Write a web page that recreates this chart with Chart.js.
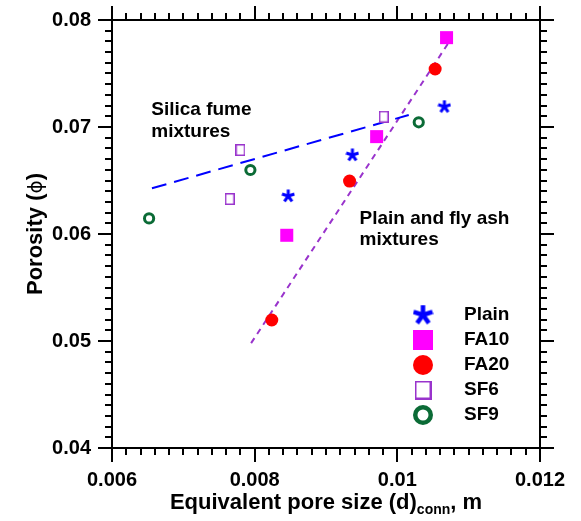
<!DOCTYPE html>
<html>
<head>
<meta charset="utf-8">
<script src="https://cdn.jsdelivr.net/npm/chart.js@4.4.0/dist/chart.umd.min.js"></script>
<style>
  body { margin: 0; background: #fff; }
  canvas { display: block; }
</style>
</head>
<body>
<canvas id="grafico" width="581" height="521"></canvas>
<script>
// Eixos
const xTicks = [0.006, 0.008, 0.010, 0.012];
const xTickLabels = ["0.006", "0.008", "0.01", "0.012"];
const yTicks = [0.04, 0.05, 0.06, 0.07, 0.08];
const yTickLabels = ["0.04", "0.05", "0.06", "0.07", "0.08"];

// Séries medidas (d_conn, porosidade)
const plainX = [0.00847, 0.00937, 0.01066];
const plainY = [0.06355, 0.06738, 0.07190];
const fa10X = [0.00845, 0.00971, 0.01069];
const fa10Y = [0.05988, 0.06910, 0.07835];
const fa20X = [0.00824, 0.00933, 0.01053];
const fa20Y = [0.05196, 0.06495, 0.07542];
const sf6X = [0.00765, 0.00780, 0.00981];
const sf6Y = [0.06327, 0.06785, 0.07096];
const sf9X = [0.00652, 0.00794, 0.01030];
const sf9Y = [0.06146, 0.06598, 0.07044];

// Retas de tendência
const sfFitX = [0.00656, 0.01016];
const sfFitY = [0.06427, 0.07112];
const faFitX = [0.00795, 0.01076];
const faFitY = [0.04980, 0.07830];

const legendLabels = ["Plain", "FA10", "FA20", "SF6", "SF9"];

const AZUL = "#0000ff";
const MAGENTA = "#ff00ff";
const VERMELHO = "#ff0000";
const ROXO = "#9933cc";
const VERDE = "#0b6b36";

function pontos(xs, ys) {
  return xs.map((x, i) => ({ x: x, y: ys[i] }));
}

// Asterisco de 5 braços
function criarEstrela(tam, larg) {
  const c = document.createElement("canvas");
  c.width = tam; c.height = tam;
  const g = c.getContext("2d");
  g.strokeStyle = AZUL;
  g.lineWidth = larg;
  const r = tam / 2;
  for (let k = 0; k < 5; k++) {
    const a = -Math.PI / 2 + k * 2 * Math.PI / 5;
    g.beginPath();
    g.moveTo(r, r);
    g.lineTo(r + Math.cos(a) * (r - 0.5), r + Math.sin(a) * (r - 0.5));
    g.stroke();
  }
  return c;
}

// Retângulo vazado (SF6)
function criarRetangulo(w, h, larg) {
  const c = document.createElement("canvas");
  c.width = w; c.height = h;
  const g = c.getContext("2d");
  g.fillStyle = "#fff";
  g.fillRect(0, 0, w, h);
  g.strokeStyle = ROXO;
  g.lineWidth = larg;
  g.strokeRect(larg / 2, larg / 2, w - larg, h - larg);
  return c;
}

const estrelaPequena = criarEstrela(14, 3);
const estrelaGrande = criarEstrela(21, 4.5);
const retPequeno = criarRetangulo(10, 12, 1.5);
const retGrande = criarRetangulo(17, 19, 2);

// Marcas menores, bordas de cima/direita
const molduraPlugin = {
  id: "moldura",
  beforeDatasetsDraw(chart) {
    const { ctx, chartArea: a, scales } = chart;
    const sx = scales.x, sy = scales.y;
    ctx.save();
    ctx.strokeStyle = "#000";
    ctx.lineWidth = 2;
    ctx.beginPath();
    ctx.moveTo(a.left, a.top); ctx.lineTo(a.right, a.top);
    ctx.moveTo(a.right, a.top); ctx.lineTo(a.right, a.bottom);
    ctx.stroke();

    ctx.lineWidth = 2;
    ctx.beginPath();
    for (let i = 0; i <= 30; i++) {
      const v = sx.min + i * (sx.max - sx.min) / 30;
      const px = Math.round(sx.getPixelForValue(v));
      const major = i % 10 === 0;
      const len = major ? 14 : 7;
      // topo
      ctx.moveTo(px, a.top); ctx.lineTo(px, a.top - len);
      if (!major) { ctx.moveTo(px, a.bottom); ctx.lineTo(px, a.bottom + len); }
    }
    for (let i = 0; i <= 40; i++) {
      const v = sy.min + i * (sy.max - sy.min) / 40;
      const py = Math.round(sy.getPixelForValue(v));
      const major = i % 10 === 0;
      const len = major ? 14 : 7;
      ctx.moveTo(a.right, py); ctx.lineTo(a.right + len, py);
      if (!major) { ctx.moveTo(a.left, py); ctx.lineTo(a.left - len, py); }
    }
    ctx.stroke();
    ctx.restore();
  },
  afterDraw(chart) {
    const { ctx, chartArea: a, scales } = chart;
    const sx = scales.x, sy = scales.y;
    ctx.save();
    ctx.fillStyle = "#000";

    // título do eixo x com subscrito
    const fGrande = "bold 22px 'Liberation Sans', Arial, sans-serif";
    const fSub = "bold 14px 'Liberation Sans', Arial, sans-serif";
    const partes = [
      { t: "Equivalent pore size (d)", f: fGrande, dy: 0 },
      { t: "conn", f: fSub, dy: 5 },
      { t: ", m", f: fGrande, dy: 0 }
    ];
    let total = 0;
    partes.forEach(p => { ctx.font = p.f; p.w = ctx.measureText(p.t).width; total += p.w; });
    let cx = (a.left + a.right) / 2 - total / 2;
    ctx.textBaseline = "alphabetic";
    ctx.textAlign = "left";
    partes.forEach(p => { ctx.font = p.f; ctx.fillText(p.t, cx, 509 + p.dy); cx += p.w; });

    // título do eixo y
    const partesY = [
      { t: "Porosity (", f: fGrande },
      { t: "\u03d5", f: "20px 'DejaVu Sans', sans-serif" },
      { t: ")", f: fGrande }
    ];
    total = 0;
    partesY.forEach(p => { ctx.font = p.f; p.w = ctx.measureText(p.t).width; total += p.w; });
    ctx.translate(42, (a.top + a.bottom) / 2);
    ctx.rotate(-Math.PI / 2);
    cx = -total / 2;
    partesY.forEach(p => { ctx.font = p.f; ctx.fillText(p.t, cx, 0); cx += p.w; });
    ctx.setTransform(1, 0, 0, 1, 0, 0);

    // anotações
    ctx.font = "bold 19px 'Liberation Sans', Arial, sans-serif";
    const ax1 = sx.getPixelForValue(0.00655), ay1 = sy.getPixelForValue(0.07112);
    ctx.fillText("Silica fume", ax1, ay1);
    ctx.fillText("mixtures", ax1, ay1 + 22);
    const ax2 = sx.getPixelForValue(0.00947), ay2 = sy.getPixelForValue(0.06093);
    ctx.fillText("Plain and fly ash", ax2, ay2);
    ctx.fillText("mixtures", ax2, ay2 + 21);

    // legenda
    const lx = a.right - 117, ly = a.bottom - 133, passo = 25;
    ctx.textBaseline = "middle";
    legendLabels.forEach((nome, i) => {
      const y = ly + i * passo;
      if (i === 0) {
        ctx.drawImage(estrelaGrande, lx - estrelaGrande.width / 2, y - estrelaGrande.height / 2);
      } else if (i === 1) {
        ctx.fillStyle = MAGENTA;
        ctx.fillRect(lx - 10, y - 10, 20, 20);
      } else if (i === 2) {
        ctx.fillStyle = VERMELHO;
        ctx.beginPath(); ctx.arc(lx, y, 10, 0, Math.PI * 2); ctx.fill();
      } else if (i === 3) {
        ctx.drawImage(retGrande, lx - retGrande.width / 2, y - retGrande.height / 2);
      } else {
        ctx.strokeStyle = VERDE; ctx.lineWidth = 4.5;
        ctx.beginPath(); ctx.arc(lx, y, 7.75, 0, Math.PI * 2); ctx.stroke();
      }
      ctx.fillStyle = "#000";
      ctx.fillText(nome, lx + 41, y);
    });
    ctx.restore();
  }
};

function criarGrafico() {
  const ctx = document.getElementById("grafico").getContext("2d");
  const fonteTick = { family: "'Liberation Sans', Arial, sans-serif", size: 20, weight: "bold" };
  new Chart(ctx, {
    type: "scatter",
    data: {
      datasets: [
        { label: "Plain", data: pontos(plainX, plainY), pointStyle: estrelaPequena, pointRadius: 7 },
        { label: "FA10", data: pontos(fa10X, fa10Y), pointStyle: "rect", pointRadius: 9.2,
          backgroundColor: MAGENTA, borderWidth: 0 },
        { label: "FA20", data: pontos(fa20X, fa20Y), pointStyle: "circle", pointRadius: 6.5,
          backgroundColor: VERMELHO, borderWidth: 0 },
        { label: "SF6", data: pontos(sf6X, sf6Y), pointStyle: retPequeno, pointRadius: 6 },
        { label: "SF9", data: pontos(sf9X, sf9Y), pointStyle: "circle", pointRadius: 4.6,
          backgroundColor: "#fff", borderColor: VERDE, borderWidth: 3 },
        { label: "sf-fit", data: pontos(sfFitX, sfFitY), showLine: true, pointRadius: 0,
          borderColor: AZUL, borderWidth: 2, borderDash: [15, 8] },
        { label: "fa-fit", data: pontos(faFitX, faFitY), showLine: true, pointRadius: 0,
          borderColor: ROXO, borderWidth: 2, borderDash: [6, 5] }
      ]
    },
    options: {
      responsive: false,
      animation: false,
      layout: { padding: { top: 20, right: 41, left: 0, bottom: 0 } },
      plugins: { legend: { display: false }, tooltip: { enabled: false } },
      scales: {
        x: {
          type: "linear", min: 0.006, max: 0.012,
          afterBuildTicks: s => { s.ticks = xTicks.map(v => ({ value: v })); },
          afterFit: s => { s.height = 73; },
          ticks: { font: fonteTick, color: "#000", padding: 6, maxRotation: 0,
            callback: (v, i) => xTickLabels[i] },
          grid: { drawOnChartArea: false, drawTicks: true, tickLength: 14, tickWidth: 2,
            tickColor: "#000", lineWidth: 2, color: "#000" },
          border: { display: true, color: "#000", width: 2 }
        },
        y: {
          type: "linear", min: 0.04, max: 0.08,
          afterBuildTicks: s => { s.ticks = yTicks.map(v => ({ value: v })); },
          afterFit: s => { s.width = 112; },
          ticks: { font: fonteTick, color: "#000", padding: 7,
            callback: (v, i) => yTickLabels[i] },
          grid: { drawOnChartArea: false, drawTicks: true, tickLength: 14, tickWidth: 2,
            tickColor: "#000", lineWidth: 2, color: "#000" },
          border: { display: true, color: "#000", width: 2 }
        }
      }
    },
    plugins: [molduraPlugin]
  });
}

criarGrafico();
</script>
</body>
</html>
